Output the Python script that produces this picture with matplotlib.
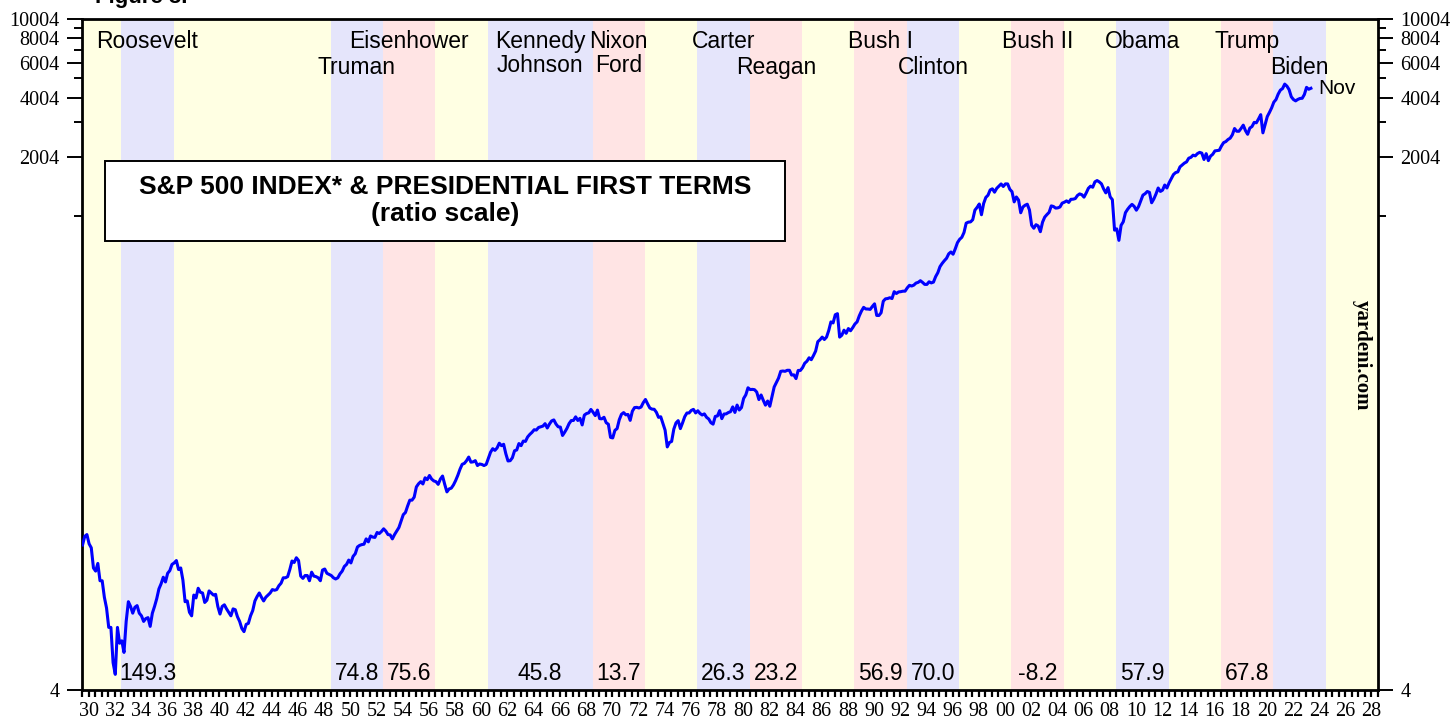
import numpy as np
import matplotlib
matplotlib.use("Agg")
import matplotlib.pyplot as plt
from matplotlib.ticker import FixedLocator, FixedFormatter, NullFormatter
from matplotlib.patches import Rectangle

# S&P 500, bi-monthly readings (Jan, Mar, May, Jul, Sep, Nov)
sp_1930s = [21.7, 24.0, 24.5, 22.0, 21.0, 16.6,
            16.0, 17.5, 14.3, 14.3, 11.8, 10.4,
            8.3, 8.3, 5.5, 4.8, 8.3, 6.9,
            7.1, 6.2, 8.9, 11.2, 10.6, 9.8,
            10.5, 10.7, 9.8, 9.5, 8.9, 9.2,
            9.3, 8.4, 9.8, 10.6, 11.6, 13.0,
            13.8, 14.9, 14.1, 15.6, 16.1, 17.3,
            17.6, 18.1, 16.3, 16.6, 14.4, 11.2,
            11.3, 9.9, 9.5, 12.1, 11.7, 13.1,
            12.5, 12.4, 11.1, 11.4, 12.7, 12.4]
sp_1940s = [12.1, 12.2, 10.6, 9.7, 10.6, 10.8,
            10.3, 9.9, 9.5, 10.3, 10.2, 9.4,
            8.9, 8.2, 7.9, 8.6, 8.7, 9.5,
            10.1, 11.3, 11.9, 12.4, 11.8, 11.3,
            11.8, 12.1, 12.4, 12.9, 12.8, 12.9,
            13.5, 13.9, 14.8, 14.8, 15.0, 16.3,
            18.0, 17.7, 18.7, 18.1, 15.1, 14.7,
            15.2, 15.2, 14.3, 15.8, 15.1, 15.0,
            14.8, 14.3, 16.2, 16.4, 15.6, 15.4,
            15.2, 14.8, 14.6, 14.8, 15.5, 16.0]
sp_1950s = [16.9, 17.3, 18.2, 17.6, 19.0, 19.6,
            21.2, 21.6, 21.8, 21.9, 23.3, 22.5,
            24.1, 23.8, 23.7, 25.1, 24.8, 25.4,
            26.2, 25.5, 24.5, 24.4, 23.3, 24.5,
            25.5, 26.6, 28.7, 30.9, 31.7, 34.2,
            36.6, 36.6, 37.9, 42.7, 44.3, 45.4,
            44.2, 47.5, 46.5, 48.8, 46.8, 45.8,
            45.4, 44.0, 46.8, 48.5, 44.0, 40.3,
            41.7, 42.1, 43.7, 46.0, 48.9, 52.5,
            55.6, 56.2, 58.0, 60.5, 57.0, 57.2]
sp_1960s = [58.0, 54.8, 55.8, 55.5, 54.8, 55.5,
            59.7, 64.0, 66.7, 65.4, 67.3, 71.1,
            69.1, 70.2, 62.9, 57.8, 58.0, 60.0,
            65.1, 65.7, 70.8, 69.1, 72.9, 72.6,
            76.5, 78.8, 80.7, 83.2, 82.9, 85.4,
            86.1, 86.8, 89.3, 84.9, 88.9, 92.2,
            93.3, 88.9, 86.1, 85.8, 77.8, 80.9,
            84.5, 89.4, 92.6, 92.7, 96.7, 92.7,
            95.0, 88.0, 98.7, 100.5, 101.3, 105.4,
            102.0, 98.1, 104.6, 94.7, 94.5, 96.2]
sp_1970s = [90.3, 88.7, 76.1, 75.6, 82.6, 84.3,
            93.5, 99.6, 101.6, 99.0, 99.4, 92.8,
            103.3, 107.7, 108.0, 107.2, 108.4, 114.1,
            118.4, 112.4, 107.2, 105.8, 105.6, 102.0,
            96.1, 96.8, 89.7, 82.8, 68.1, 71.7,
            72.6, 83.8, 90.1, 92.5, 84.3, 90.1,
            96.9, 101.1, 101.2, 104.2, 105.5, 101.2,
            103.8, 100.6, 98.8, 100.1, 96.2, 94.3,
            90.3, 88.8, 97.2, 97.7, 103.9, 94.7,
            99.9, 100.1, 101.7, 102.7, 108.6, 101.8]
sp_1980s = [110.9, 104.7, 107.7, 119.8, 125.0, 135.7,
            132.9, 133.2, 132.7, 129.1, 118.3, 124.8,
            117.3, 110.8, 116.3, 109.4, 122.4, 137.0,
            144.3, 151.9, 164.4, 165.0, 164.4, 166.4,
            166.4, 157.4, 157.8, 151.1, 166.1, 166.1,
            171.6, 180.7, 184.9, 192.5, 188.3, 197.5,
            208.2, 232.3, 237.7, 245.0, 238.3, 245.1,
            264.5, 292.5, 289.1, 318.0, 322.0, 245.0,
            250.5, 265.7, 256.1, 270.7, 263.9, 273.7,
            285.4, 292.7, 313.9, 331.9, 346.6, 340.2]
sp_1990s = [339.9, 338.5, 350.3, 361.2, 315.4, 315.3,
            325.5, 372.3, 382.8, 384.2, 387.9, 384.2,
            416.1, 407.4, 414.8, 416.1, 418.5, 418.7,
            435.2, 448.1, 444.5, 449.3, 460.1, 463.9,
            473.0, 463.8, 453.0, 453.0, 467.0, 461.0,
            465.3, 496.0, 519.2, 557.4, 578.8, 597.5,
            614.4, 647.1, 661.2, 644.1, 686.2, 737.0,
            766.2, 784.6, 829.8, 925.3, 936.5, 938.9,
            963.4, 1076.8, 1112.2, 1156.6, 1020.6, 1163.6,
            1248.8, 1281.7, 1362.9, 1380.9, 1327.5, 1388.9]
sp_2000s = [1425.6, 1461.4, 1419.0, 1462.9, 1462.0, 1373.0,
            1335.6, 1185.9, 1255.8, 1211.2, 1044.6, 1117.0,
            1140.2, 1153.8, 1079.3, 903.0, 872.0, 909.0,
            895.8, 837.6, 935.9, 993.0, 1022.5, 1049.5,
            1131.9, 1123.8, 1102.8, 1105.9, 1117.7, 1168.9,
            1181.4, 1199.6, 1178.3, 1221.9, 1223.6, 1232.2,
            1277.7, 1301.6, 1289.6, 1253.1, 1314.8, 1389.2,
            1424.2, 1406.8, 1497.5, 1520.7, 1497.1, 1463.4,
            1378.8, 1316.9, 1400.4, 1257.3, 1217.0, 853.0,
            865.6, 757.1, 902.4, 940.4, 1046.0, 1088.1]
sp_2010s = [1123.6, 1152.0, 1125.1, 1076.1, 1122.1, 1198.9,
            1282.6, 1304.5, 1338.3, 1325.2, 1173.9, 1226.4,
            1300.6, 1394.3, 1339.2, 1359.8, 1443.4, 1394.5,
            1480.4, 1552.0, 1631.0, 1668.7, 1682.4, 1783.5,
            1822.4, 1863.5, 1889.8, 1973.1, 1993.2, 2044.6,
            2028.2, 2082.8, 2111.9, 2094.1, 1944.4, 2080.6,
            1918.6, 2021.9, 2065.6, 2148.9, 2157.7, 2164.9,
            2275.1, 2366.8, 2395.3, 2454.1, 2492.8, 2593.6,
            2789.8, 2702.8, 2701.5, 2793.6, 2901.5, 2723.2,
            2607.4, 2804.0, 2854.7, 2996.1, 2982.2, 3120.5]
sp_2020s = [3278.2, 2652.4, 2919.6, 3207.6, 3365.5, 3548.9,
            3793.7, 3910.5, 4168.0, 4363.7, 4445.5, 4682.8,
            4573.8, 4391.3, 4040.4, 3911.7, 3850.5, 3917.5,
            3960.7, 3968.6, 4146.2, 4508.1, 4409.1, 4460.0]

# presidential first terms (background bands)
band_start = [1930, 1933, 1937, 1949, 1953, 1957, 1961, 1969, 1973, 1977, 1981,
              1985, 1989, 1993, 1997, 2001, 2005, 2009, 2013, 2017, 2021, 2025]
band_party = ["n", "d", "n", "d", "r", "n", "d", "r", "n", "d", "r",
              "n", "r", "d", "n", "r", "n", "d", "n", "r", "d", "n"]
band_colors = {"n": "#FFFFE3", "d": "#E5E5FB", "r": "#FFE4E4"}

names = ["Roosevelt", "Truman", "Eisenhower", "Kennedy", "Johnson", "Nixon", "Ford",
         "Carter", "Reagan", "Bush I", "Clinton", "Bush II", "Obama", "Trump", "Biden"]
name_x = [1935, 1951, 1955, 1965, 1965, 1971, 1971,
          1979, 1983, 1991, 1995, 2003, 2011, 2019, 2023]
name_row = [1, 2, 1, 1, 2, 1, 2, 1, 2, 1, 2, 1, 1, 1, 2]

pct_x = [1935, 1951, 1955, 1965, 1971, 1979, 1983, 1991, 1995, 2003, 2011, 2019]
pct_labels = ["149.3", "74.8", "75.6", "45.8", "13.7", "26.3", "23.2",
              "56.9", "70.0", "-8.2", "57.9", "67.8"]

ytick_major = [4, 2004, 4004, 6004, 8004, 10004]
ytick_minor = [1004, 3004, 5004, 7004, 9004]

sp = np.concatenate([sp_1930s, sp_1940s, sp_1950s, sp_1960s, sp_1970s,
                     sp_1980s, sp_1990s, sp_2000s, sp_2010s, sp_2020s])
dates = 1930 + np.arange(len(sp)) / 6 + 1 / 24

serif = "Liberation Serif"
sans = "Liberation Sans"

fig = plt.figure(figsize=(14.53, 7.19), dpi=100)
ax = fig.add_axes([82 / 1453, 29 / 719, 1296 / 1453, 671 / 719])

ends = band_start[1:] + [2029]
for s, e, p in zip(band_start, ends, band_party):
    ax.axvspan(s, e, color=band_colors[p], lw=0, zorder=0)

ax.plot(dates, sp, color="#0000FF", lw=2.2, zorder=3)

ax.set_yscale("log")
ax.set_xlim(1930, 2029)
ax.set_ylim(4, 10004)

# y axis, both sides
ax.yaxis.set_major_locator(FixedLocator(ytick_major))
ax.yaxis.set_major_formatter(FixedFormatter([str(v) for v in ytick_major]))
ax.yaxis.set_minor_locator(FixedLocator(ytick_minor))
ax.yaxis.set_minor_formatter(NullFormatter())
ax.tick_params(axis="y", which="both", left=True, right=True,
               labelleft=True, labelright=True, direction="out")
ax.tick_params(axis="y", which="major", length=11, width=1.4, pad=5,
               labelsize=14.5)
ax.tick_params(axis="y", which="minor", length=6, width=1.4)

# x axis: ticks every half year, labels mid-year
xmaj = np.arange(1930.5, 2029, 2)
ax.xaxis.set_major_locator(FixedLocator(xmaj))
ax.xaxis.set_major_formatter(FixedFormatter(["%02d" % (int(v) % 100) for v in xmaj]))
ax.xaxis.set_minor_locator(FixedLocator(np.arange(1930, 2029.01, 0.5)))
ax.tick_params(axis="x", which="both", direction="out", length=5, width=1.6,
               pad=3.5, labelsize=14.5)

for t in ax.xaxis.get_major_ticks():
    t.label1.set_fontfamily(serif)
for t in ax.yaxis.get_major_ticks():
    t.label1.set_fontfamily(serif)
    t.label2.set_fontfamily(serif)
    t.label2.set_fontsize(14.5)

for sp_ in ax.spines.values():
    sp_.set_linewidth(2)

# president names
row_y = {1: 0.9568, 2: 0.918}
tr = ax.get_xaxis_transform()
for n, x, r in zip(names, name_x, name_row):
    y = row_y[r]
    if n in ("Johnson", "Ford"):
        y = 0.9215
    ax.text(x, y, n, transform=tr, ha="center", va="baseline",
            fontsize=16.5, family=sans, zorder=4)

for x, t in zip(pct_x, pct_labels):
    ax.text(x, 0.0149, t, transform=tr, ha="center", va="baseline",
            fontsize=16.5, family=sans, zorder=4)

ax.annotate("Nov", xy=(dates[-1], sp[-1]), xytext=(5, 0), textcoords="offset points",
            ha="left", va="center", fontsize=15, family=sans)

# title box
ax.add_patch(Rectangle((0.0177, 0.669), 0.5247, 0.119, transform=ax.transAxes,
                       facecolor="white", edgecolor="black", lw=1.4, zorder=5))
ax.text(0.2801, 0.7496, "S&P 500 INDEX* & PRESIDENTIAL FIRST TERMS",
        transform=ax.transAxes, ha="center", va="center", fontsize=19,
        fontweight="bold", family=sans, zorder=6)
ax.text(0.2801, 0.7094, "(ratio scale)", transform=ax.transAxes, ha="center",
        va="center", fontsize=19, fontweight="bold", family=sans, zorder=6)

ax.text(0.9877, 0.4993, "yardeni.com", transform=ax.transAxes, rotation=-90,
        ha="center", va="center", fontsize=15, fontweight="bold", family=serif)

fig.text(95 / 1453, 1 - 3 / 719, "Figure 3.", ha="left", va="baseline",
         fontsize=16, fontweight="bold", family=sans)

fig.savefig("out.png", dpi=100)
